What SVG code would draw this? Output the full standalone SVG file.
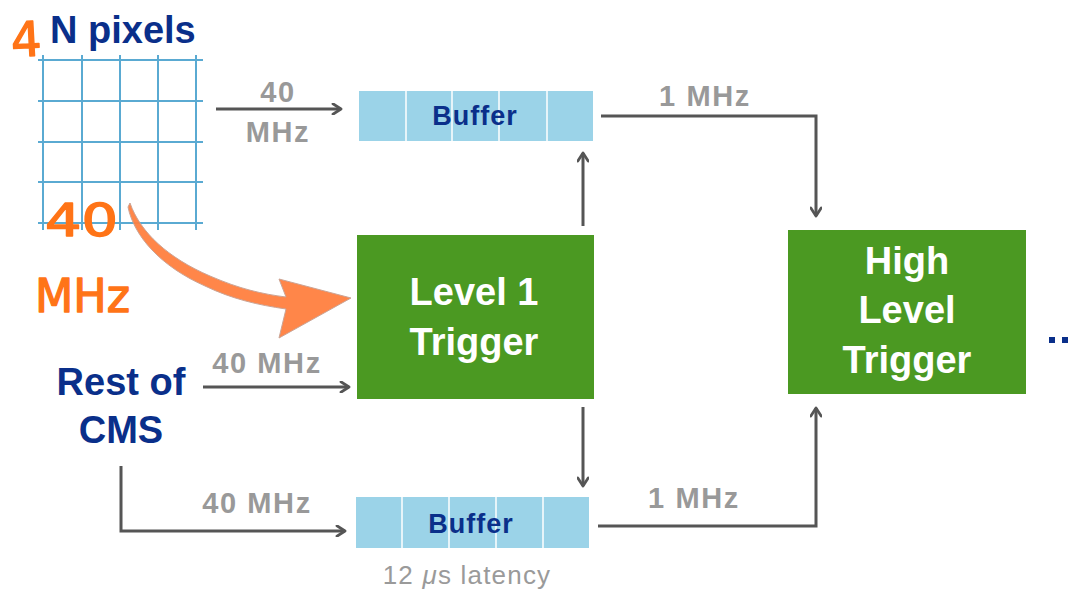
<svg xmlns="http://www.w3.org/2000/svg" width="1074" height="589" viewBox="0 0 1074 589">
  <style>
    .title { font-family: "Liberation Sans", Arial, sans-serif; font-weight: bold; fill: #0a2f8a; }
    .rate { font-family: "Liberation Sans", Arial, sans-serif; font-weight: bold; font-size: 29px; letter-spacing: 1.6px; fill: #999999; text-anchor: middle; }
    .box-label { font-family: "Liberation Sans", Arial, sans-serif; font-weight: bold; font-size: 38px; fill: #ffffff; text-anchor: middle; }
    .buf-label { font-family: "Liberation Sans", Arial, sans-serif; font-weight: bold; font-size: 27px; letter-spacing: 1px; fill: #0a2f8a; text-anchor: middle; }
    .hand { font-family: "DejaVu Sans", sans-serif; font-weight: normal; fill: #ff7417; stroke: #ff7417; stroke-width: 1.4; stroke-linejoin: round; }
    .grid line { stroke: #5aaad2; stroke-width: 2; }
    .cell { fill: #9bd3e8; }
    .sep { stroke: #ffffff; stroke-width: 1.5; }
    .green { fill: #4b9922; }
    .wire { fill: none; stroke: #555555; stroke-width: 3; }
  </style>
  <defs>
    <marker id="arrow" viewBox="0 0 12 12" refX="10" refY="6" markerWidth="12" markerHeight="12" markerUnits="userSpaceOnUse" orient="auto">
      <polyline points="2,0.8 10,6 2,11.2" fill="none" stroke="#555555" stroke-width="2.8" stroke-linecap="round" stroke-linejoin="round"/>
    </marker>
  </defs>

  <rect width="1074" height="589" fill="#ffffff"/>

  <!-- pixel detector grid -->
  <g id="pixels">
    <g class="grid">
      <line x1="43" y1="55" x2="43" y2="230"/>
      <line x1="82" y1="55" x2="82" y2="230"/>
      <line x1="120" y1="55" x2="120" y2="230"/>
      <line x1="158" y1="55" x2="158" y2="230"/>
      <line x1="196" y1="55" x2="196" y2="230"/>
      <line x1="38" y1="60" x2="203" y2="60"/>
      <line x1="38" y1="101" x2="203" y2="101"/>
      <line x1="38" y1="142" x2="203" y2="142"/>
      <line x1="38" y1="182" x2="203" y2="182"/>
      <line x1="38" y1="223" x2="203" y2="223"/>
    </g>
    <text class="title" x="50" y="43" font-size="38">N pixels</text>
    <text class="hand" x="11" y="56" font-size="48" transform="rotate(-3 30 40)">4</text>
    <text class="hand" x="45" y="236" font-size="44" textLength="73" lengthAdjust="spacingAndGlyphs">40</text>
    <text class="hand" x="35" y="312" font-size="46" textLength="95" lengthAdjust="spacingAndGlyphs">MHz</text>
    <!-- hand-drawn orange arrow into the trigger -->
    <path d="M130,203 C140,232 168,258 210,276 C240,289 262,294 286,297 L279,279 L351,298 L279,338 L286,309 C258,305 232,299 205,286 C160,266 134,236 128,207 Z"
          fill="#ff8040" stroke="#c9a090" stroke-width="1" stroke-linejoin="round" opacity="0.95"/>
  </g>

  <!-- top buffer -->
  <g id="buffer-top">
    <rect class="cell" x="359" y="91" width="234" height="50"/>
    <line class="sep" x1="406" y1="91" x2="406" y2="141"/>
    <line class="sep" x1="452" y1="91" x2="452" y2="141"/>
    <line class="sep" x1="499" y1="91" x2="499" y2="141"/>
    <line class="sep" x1="547" y1="91" x2="547" y2="141"/>
    <text class="buf-label" x="475" y="125">Buffer</text>
  </g>

  <!-- level 1 trigger -->
  <g id="level1">
    <rect class="green" x="357" y="235" width="237" height="164"/>
    <text class="box-label" x="474" y="305">Level 1</text>
    <text class="box-label" x="474" y="355">Trigger</text>
  </g>

  <!-- high level trigger -->
  <g id="hlt">
    <rect class="green" x="788" y="230" width="238" height="164"/>
    <text class="box-label" x="907" y="274">High</text>
    <text class="box-label" x="907" y="323">Level</text>
    <text class="box-label" x="907" y="373">Trigger</text>
  </g>

  <!-- rest of detector -->
  <g id="rest-of-cms">
    <text class="title" x="121" y="395" font-size="38" text-anchor="middle">Rest of</text>
    <text class="title" x="121" y="443" font-size="38" text-anchor="middle">CMS</text>
  </g>

  <!-- bottom buffer -->
  <g id="buffer-bottom">
    <rect class="cell" x="356" y="497" width="233" height="51"/>
    <line class="sep" x1="402" y1="497" x2="402" y2="548"/>
    <line class="sep" x1="449" y1="497" x2="449" y2="548"/>
    <line class="sep" x1="496" y1="497" x2="496" y2="548"/>
    <line class="sep" x1="543" y1="497" x2="543" y2="548"/>
    <text class="buf-label" x="471" y="533">Buffer</text>
    <text x="467" y="584" font-family="'Liberation Sans', Arial, sans-serif" font-size="26" letter-spacing="1.2" fill="#9a9a9a" text-anchor="middle">12 <tspan font-style="italic">μ</tspan>s latency</text>
  </g>

  <g id="continuation">
    <rect x="1049" y="337" width="6" height="6" fill="#0a2f8a"/>
    <rect x="1062" y="337" width="6" height="6" fill="#0a2f8a"/>
  </g>

  <!-- connectors -->
  <g id="connectors">
    <line class="wire" x1="216" y1="109" x2="341" y2="109" marker-end="url(#arrow)"/>
    <path class="wire" d="M601,116 H816 V216" marker-end="url(#arrow)"/>
    <line class="wire" x1="583" y1="226" x2="583" y2="153" marker-end="url(#arrow)"/>
    <line class="wire" x1="203" y1="387" x2="349" y2="387" marker-end="url(#arrow)"/>
    <line class="wire" x1="583" y1="407" x2="583" y2="486" marker-end="url(#arrow)"/>
    <path class="wire" d="M121,466 V531 H345" marker-end="url(#arrow)"/>
    <path class="wire" d="M598,526 H816 V408" marker-end="url(#arrow)"/>
  </g>

  <!-- rate labels -->
  <g id="rates">
    <text class="rate" x="278" y="102">40</text>
    <text class="rate" x="278" y="142">MHz</text>
    <text class="rate" x="705" y="106">1 MHz</text>
    <text class="rate" x="267" y="373">40 MHz</text>
    <text class="rate" x="257" y="513">40 MHz</text>
    <text class="rate" x="694" y="508">1 MHz</text>
  </g>
</svg>
